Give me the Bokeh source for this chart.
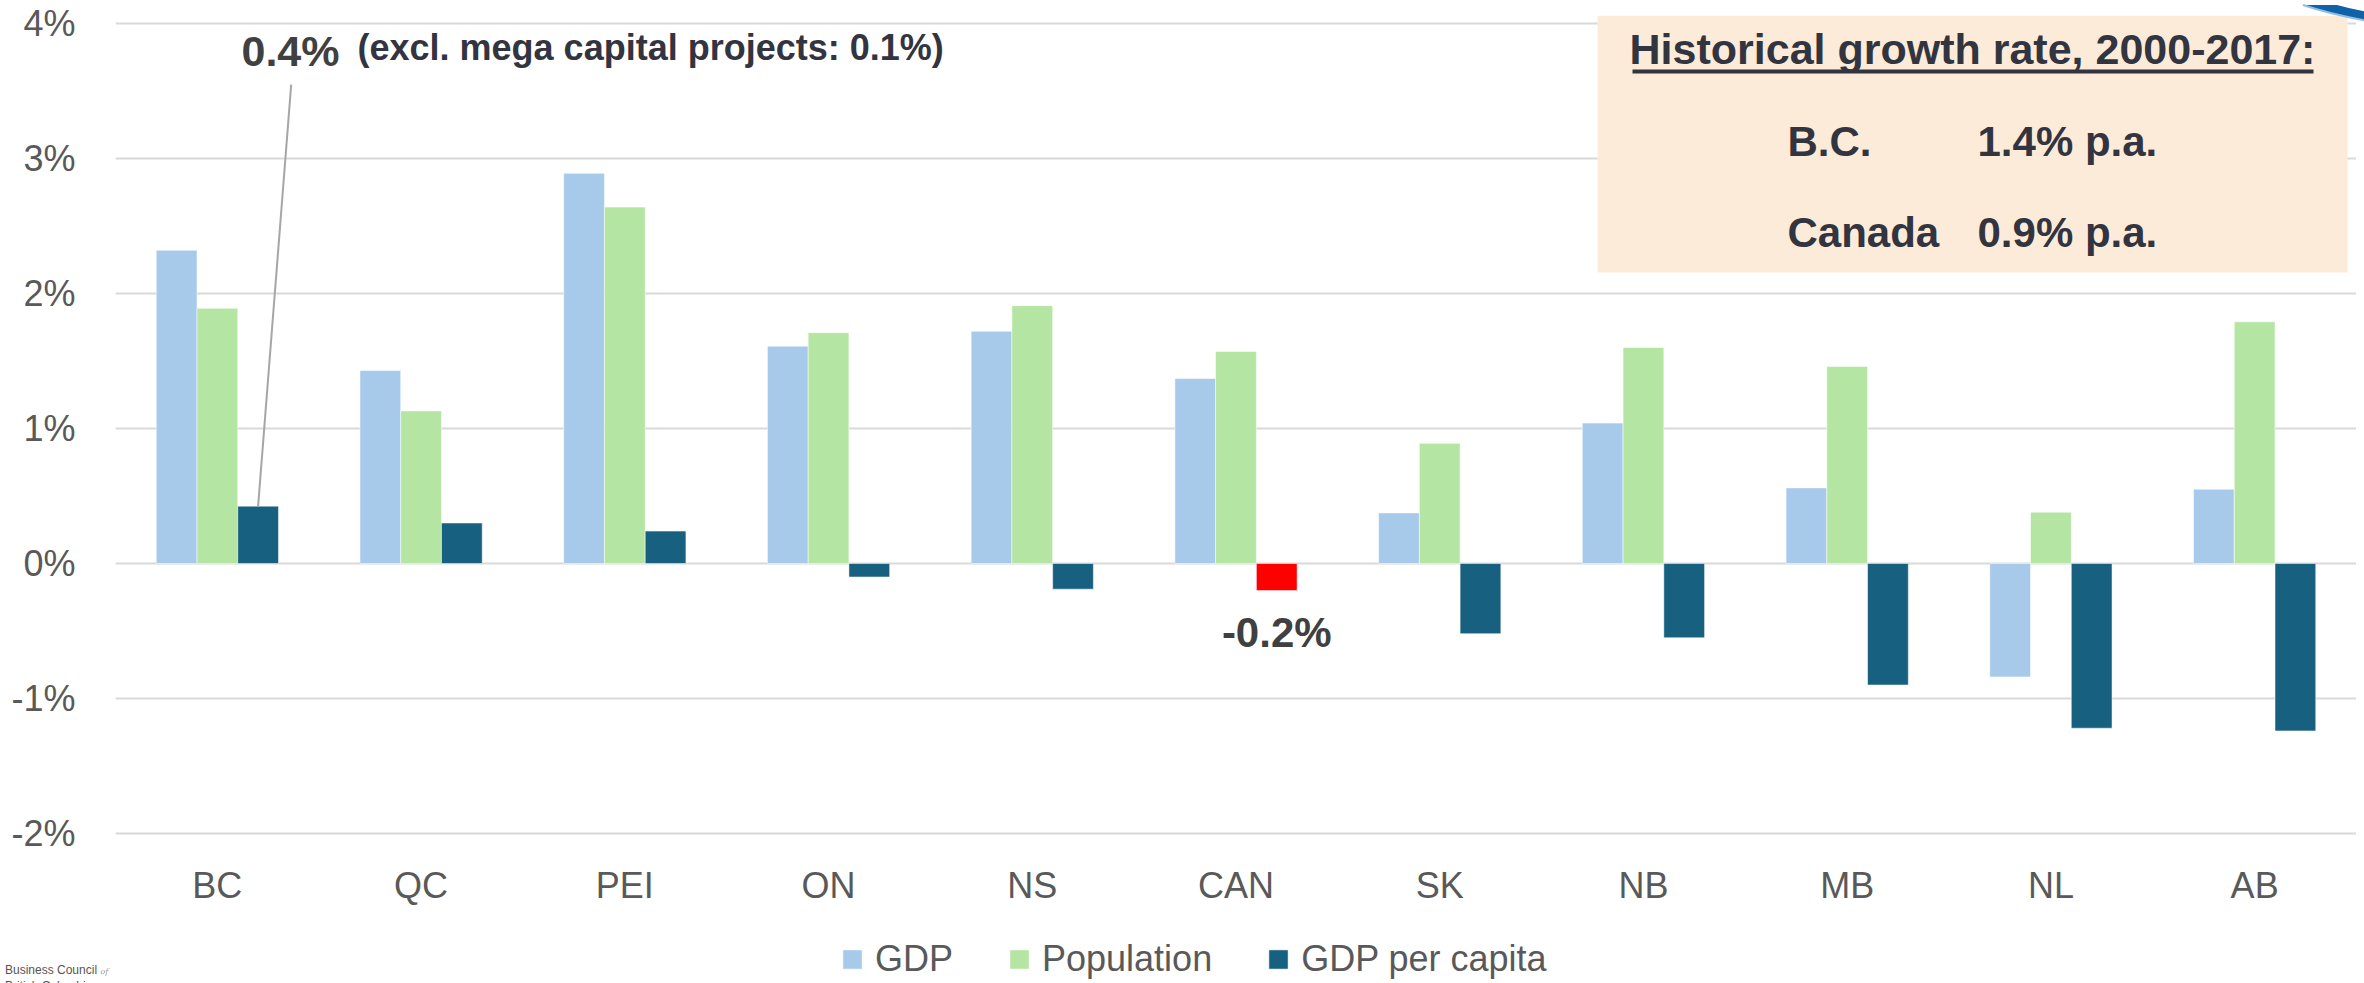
from bokeh.plotting import figure
from bokeh.models import (ColumnDataSource, FactorRange, Range1d, FixedTicker, Div,
                          PrintfTickFormatter, Label, BoxAnnotation, Legend, LegendItem)
from bokeh.core.properties import value
from bokeh.layouts import column
from bokeh.transform import dodge
from bokeh.embed import file_html
from bokeh.resources import INLINE

# ---------------- data ----------------
categories = ["BC", "QC", "PEI", "ON", "NS", "CAN", "SK", "NB", "MB", "NL", "AB"]
gdp = [2.32, 1.43, 2.89, 1.61, 1.72, 1.37, 0.375, 1.04, 0.56, -0.84, 0.55]
population = [1.89, 1.13, 2.64, 1.71, 1.91, 1.57, 0.89, 1.60, 1.46, 0.38, 1.79]
gdp_per_capita = [0.425, 0.30, 0.24, -0.10, -0.19, -0.20, -0.52, -0.55, -0.90, -1.22, -1.24]
series_names = ["GDP", "Population", "GDP per capita"]
highlight = "CAN"
y_ticks = [-2, -1, 0, 1, 2, 3, 4]
excl_mega_bc = 0.1
hist_title = "Historical growth rate, 2000-2017:"
hist_rows = [("B.C.", 1.4), ("Canada", 0.9)]

# ---------------- style / layout ----------------
C_GDP = "#A7CAEB"
C_POP = "#B5E5A2"
C_PC = "#17607F"
C_HI = "#FF0000"
TXT = "#595959"
DARK = "#404040"
NAVY = "#32353F"
FONT = "Liberation Sans"

W, H = 2356, 983
FL, FT = 115, 15                # frame left / top on canvas; frame runs to the canvas bottom
PX_PCT = 135.0                  # pixels per 1 percentage point
FH = H - FT
Y_TOP = y_ticks[-1] + 8 / PX_PCT
Y_BOT = Y_TOP - FH / PX_PCT
FW = W - FL
CAT_PX = FW / len(categories)
BASE_FIX = 0.38                 # Bokeh text anchor offset (fraction of font size)


def xd(px):   # canvas pixel -> synthetic x (annotation placement only)
    return (px - FL) / CAT_PX


def yd(py):   # canvas pixel -> data y (annotation placement only)
    return Y_TOP - (py - FT) / PX_PCT


src = ColumnDataSource(dict(
    cat=categories, gdp=gdp, pop=population, pc=gdp_per_capita,
    pc_color=[C_HI if c == highlight else C_PC for c in categories],
))

p = figure(width=W, height=H, x_range=FactorRange(*categories, range_padding=0, factor_padding=0),
           y_range=Range1d(Y_BOT, Y_TOP), output_backend="svg", toolbar_location=None,
           min_border_left=FL, min_border_right=0, min_border_top=FT, min_border_bottom=0)
p.outline_line_color = None
p.background_fill_color = "white"
p.border_fill_color = "white"

r1 = p.vbar(x=dodge("cat", -0.2, range=p.x_range), top="gdp", width=0.2, source=src,
            fill_color=C_GDP, line_color="white", line_alpha=0.5, line_width=1)
r2 = p.vbar(x=dodge("cat", 0.0, range=p.x_range), top="pop", width=0.2, source=src,
            fill_color=C_POP, line_color="white", line_alpha=0.5, line_width=1)
r3 = p.vbar(x=dodge("cat", 0.2, range=p.x_range), top="pc", width=0.2, source=src,
            fill_color="pc_color", line_color="white", line_alpha=0.5, line_width=1)

# y axis + grid
p.xgrid.grid_line_color = None
p.ygrid.grid_line_color = "#D9D9D9"
p.ygrid.grid_line_width = 2
p.yaxis.ticker = FixedTicker(ticks=y_ticks)
p.ygrid.ticker = FixedTicker(ticks=y_ticks)
p.yaxis.formatter = PrintfTickFormatter(format="%d%%")
ax = p.yaxis[0]
ax.axis_line_color = None
ax.major_tick_line_color = None
ax.minor_tick_line_color = None
ax.major_tick_out = 0
ax.major_tick_in = 0
ax.minor_tick_out = 0
ax.minor_tick_in = 0
ax.major_label_text_font = FONT
ax.major_label_text_font_size = "36px"
ax.major_label_text_color = TXT
ax.major_label_standoff = 40

# category labels: placed on the categorical scale below the -2% line
p.xaxis.visible = False
CAT_SIZE = 36
cat_base = 899
p.text(x=categories, y=[yd(cat_base - BASE_FIX * CAT_SIZE)] * len(categories), text=categories,
       text_align="center", text_baseline="alphabetic", text_font=value(FONT),
       text_font_size=f"{CAT_SIZE}px", text_color=TXT)

# legend (inside the extended frame, below the category labels)
legend = Legend(items=[LegendItem(label=series_names[0], renderers=[r1]),
                       LegendItem(label=series_names[1], renderers=[r2]),
                       LegendItem(label=series_names[2], renderers=[r3])],
                orientation="horizontal", location=(840 - FL, 3),
                label_text_font=FONT, label_text_font_size="36px", label_text_color=TXT,
                glyph_width=24, glyph_height=24, label_standoff=11, spacing=54,
                padding=0, margin=0, border_line_color=None, background_fill_alpha=0)
p.add_layout(legend, "center")


def label(px, base, text, size, color, bold=False, align="left", font=FONT):
    p.add_layout(Label(x=xd(px), y=yd(base - BASE_FIX * size), text=text, text_align=align,
                       text_baseline="alphabetic", text_font=font,
                       text_font_style="bold" if bold else "normal",
                       text_font_size=f"{size}px", text_color=color))


# ---------------- annotations ----------------
i_bc = categories.index("BC")
bc_x = i_bc + 0.5 + 0.2
p.segment(x0=[bc_x], y0=[gdp_per_capita[i_bc]], x1=[xd(290.7)], y1=[yd(84)],
          line_color="#A6A6A6", line_width=2)
label(290, 67, f"{gdp_per_capita[i_bc]:.1f}%", 43, DARK, bold=True, align="center")
label(357, 61, f"(excl. mega capital projects: {excl_mega_bc:.1f}%)", 36, NAVY, bold=True)

i_hi = categories.index(highlight)
hi_px = FL + (i_hi + 0.5 + 0.2) * CAT_PX
label(hi_px, 648, f"{gdp_per_capita[i_hi]:.1f}%", 42, DARK, bold=True, align="center")

# historical box
p.add_layout(BoxAnnotation(left=xd(1597), right=xd(2347), top=yd(15), bottom=yd(272),
                           fill_color="#FDEBD9", fill_alpha=1, line_color=None, level="annotation"))
label(1972, 65, hist_title, 43, NAVY, bold=True, align="center")
p.add_layout(BoxAnnotation(left=xd(1632), right=xd(2313), top=yd(69), bottom=yd(73),
                           fill_color=NAVY, fill_alpha=1, line_color=None, level="annotation"))
for (name, val), base in zip(hist_rows, [157, 248]):
    label(1787, base, name, 42, NAVY, bold=True)
    label(1977, base, f"{val:.1f}% p.a.", 42, NAVY, bold=True)

# slide decorations overlaid on the figure's empty corners: logo text + blue swoosh
overlay_html = (
    "<div style=\"position:absolute;left:0px;top:-25px;font-family:'Liberation Sans';"
    "font-size:12px;line-height:14px;color:#555555;white-space:nowrap\">"
    "Business Council <i style=\"font-family:'DejaVu Serif';font-size:8px;color:#999999\">of</i>"
    "<br>British Columbia</div>"
    "<svg style=\"position:absolute;left:2290px;top:-983px;overflow:visible\" width=\"74\" height=\"18\">"
    "<path d=\"M8 0 Q 38 10 74 16 L 74 7 Q 56 4 42 0 Z\" fill=\"#0F62A8\"/>"
    "<path d=\"M8 0 Q 38 10 74 16\" stroke=\"#8DBCE4\" stroke-width=\"2\" fill=\"none\"/>"
    "</svg>"
)
overlay = Div(text=overlay_html, width=W, height=0,
              styles={"position": "relative", "overflow": "visible"})

layout = column(p, overlay, spacing=0)
open("out.html", "w").write(file_html(layout, INLINE))
